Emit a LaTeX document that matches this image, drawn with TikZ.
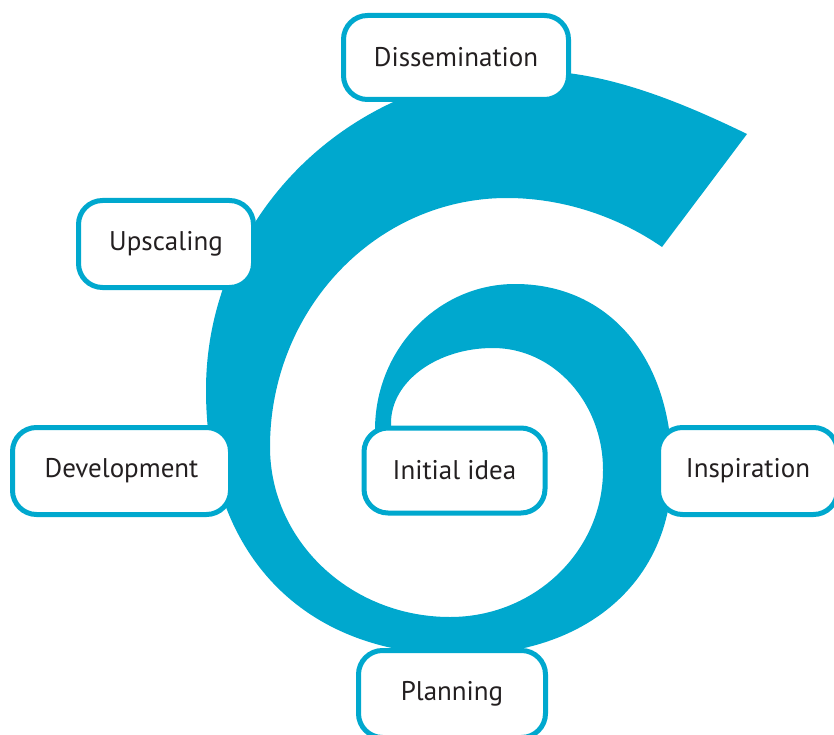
\documentclass[tikz,border=0pt]{standalone}
\usepackage{fontspec}
\setmainfont{PT Sans}
\definecolor{spiral}{RGB}{0,168,206}
\definecolor{ink}{RGB}{35,31,32}
\tikzset{stage/.style={draw=spiral, line width=5pt, fill=white, rounded corners=24pt,
    minimum height=87pt, inner sep=0pt, text=ink, font=\fontsize{27}{32}\selectfont}}

\begin{document}
\begin{tikzpicture}[x=1pt,y=-1pt]
  \useasboundingbox (0,0) rectangle (834,735);
  \fill[spiral] (375,470) -- (375,430)
      .. controls (375,349.4) and (437.7,284) .. (515,284)
      .. controls (609,284) and (672,358) .. (672,470)
      .. controls (672,581) and (587,655) .. (460,655)
      .. controls (302.5,655) and (206,554) .. (206,390)
      .. controls (206,214) and (353,71) .. (535,71)
      .. controls (605,71) and (679,101) .. (747,134)
      -- (662,247)
      .. controls (617,216) and (562,198) .. (507,198)
      .. controls (376,198) and (270,309.5) .. (270,447)
      .. controls (270,540.9) and (350.6,617) .. (450,617)
      .. controls (534.5,617) and (603,551.2) .. (603,470)
      .. controls (603,402.6) and (553.8,348) .. (493,348)
      .. controls (436.7,348) and (391,381.6) .. (391,423)
      -- (391,470) -- cycle;
  \foreach \name/\x/\y/\w/\h/\txt in {
      diss/456/57.5/225/84/Dissemination,
      upsc/166/244/175/87/Upscaling,
      dev/121.5/471/218/87/Development,
      init/454.5/470.5/181/85/Initial idea,
      insp/748/471/179/87/Inspiration,
      plan/452/694/187/87/Planning}
    \node[stage, minimum width=\w pt, minimum height=\h pt] (\name) at (\x,\y) {\txt};
\end{tikzpicture}
\end{document}
